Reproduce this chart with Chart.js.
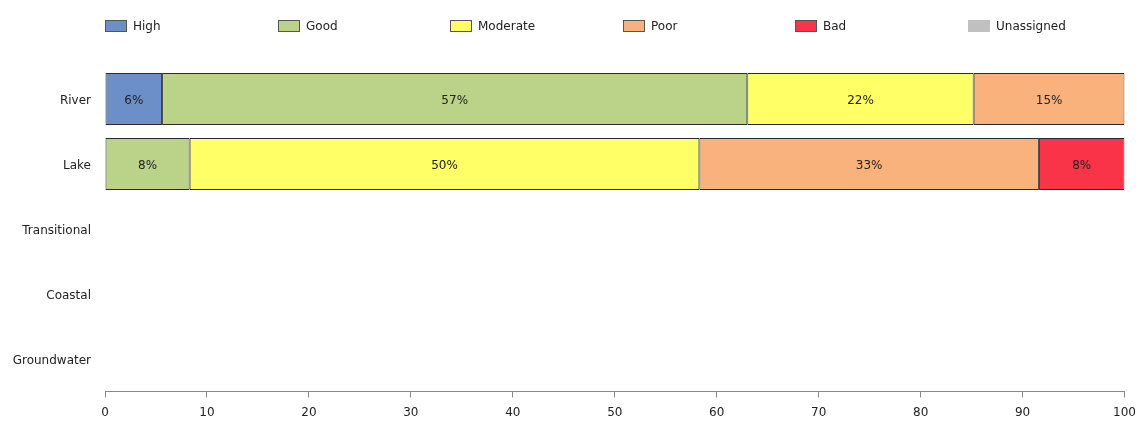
<!DOCTYPE html>
<html>
<head>
<meta charset="utf-8">
<script src="https://cdn.jsdelivr.net/npm/chart.js@4/dist/chart.umd.min.js"></script>
<style>
  body { margin: 0; background: #fff; }
</style>
</head>
<body>
<canvas id="myChart" width="1144" height="421"></canvas>
<script>
// water body categories (y axis)
const categories = ['River', 'Lake', 'Transitional', 'Coastal', 'Groundwater'];

// share of water bodies per status class, in percent
const high       = [5.6,  null, null, null, null];
const good       = [57.4, 8.3,  null, null, null];
const moderate   = [22.2, 50.0, null, null, null];
const poor       = [14.8, 33.3, null, null, null];
const bad        = [null, 8.4,  null, null, null];
const unassigned = [null, null, null, null, null];

const xTicks = [0, 10, 20, 30, 40, 50, 60, 70, 80, 90, 100];

const seriesNames = ['High', 'Good', 'Moderate', 'Poor', 'Bad', 'Unassigned'];
const seriesData = [high, good, moderate, poor, bad, unassigned];
const seriesColors = ['#6b8fc6', '#bbd289', '#ffff66', '#f9b27b', '#f93448', '#c0c0c0'];

const FONT = { family: 'DejaVu Sans', size: 12 };
const TEXT = '#222';

// writes "xx%" in the middle of every segment
const segmentLabels = {
	id: 'segmentLabels',
	afterDatasetsDraw(chart) {
		const ctx = chart.ctx;
		ctx.save();
		ctx.font = FONT.size + 'px ' + FONT.family;
		ctx.fillStyle = TEXT;
		ctx.textAlign = 'center';
		ctx.textBaseline = 'middle';
		chart.data.datasets.forEach((ds, i) => {
			const meta = chart.getDatasetMeta(i);
			meta.data.forEach((bar, j) => {
				const v = ds.data[j];
				if (v == null || v === 0) return;
				const c = bar.getCenterPoint();
				ctx.fillText(Math.round(v) + '%', c.x, c.y + 1.5);
			});
		});
		ctx.restore();
	}
};

// legend in evenly spaced columns above the plot
const columnLegend = {
	id: 'columnLegend',
	afterDraw(chart) {
		const ctx = chart.ctx;
		const left = chart.chartArea.left;
		const step = 172.6;
		ctx.save();
		ctx.font = FONT.size + 'px ' + FONT.family;
		ctx.textBaseline = 'middle';
		chart.data.datasets.forEach((ds, i) => {
			const x = Math.round(left + i * step);
			ctx.fillStyle = ds.backgroundColor;
			ctx.fillRect(x, 20, 22, 12);
			if (ds.label !== 'Unassigned') {
				ctx.strokeStyle = '#555';
				ctx.lineWidth = 1;
				ctx.strokeRect(x + 0.5, 20.5, 21, 11);
			}
			ctx.fillStyle = TEXT;
			ctx.textAlign = 'left';
			ctx.fillText(ds.label, x + 28, 27);
		});
		ctx.restore();
	}
};

const ctx = document.querySelector('#myChart').getContext('2d');

new Chart(ctx, {
	type: 'bar',
	data: {
		labels: categories,
		datasets: seriesNames.map((name, i) => ({
			label: name,
			data: seriesData[i],
			backgroundColor: seriesColors[i],
			borderColor: '#2a2a2a',
			borderWidth: 1,
			borderSkipped: false,
			barPercentage: 0.8,
			categoryPercentage: 1.0
		}))
	},
	options: {
		indexAxis: 'y',
		responsive: false,
		animation: false,
		layout: { padding: { top: 66.5, right: 17, left: 0, bottom: 0 } },
		plugins: {
			legend: { display: false },
			tooltip: { enabled: false }
		},
		scales: {
			x: {
				stacked: true,
				min: 0,
				max: 100,
				afterBuildTicks: scale => { scale.ticks = xTicks.map(v => ({ value: v })); },
				afterFit: scale => { scale.height = 29.5; },
				grid: { drawOnChartArea: false, drawTicks: true, tickLength: 6, color: '#888' },
				border: { display: true, color: '#888' },
				ticks: { font: FONT, color: TEXT, padding: 8, maxRotation: 0 }
			},
			y: {
				stacked: true,
				afterFit: scale => { scale.width = 105; },
				grid: { display: false, drawTicks: false },
				border: { display: false },
				ticks: { font: FONT, color: TEXT, padding: 14, labelOffset: 2 }
			}
		}
	},
	plugins: [segmentLabels, columnLegend]
});
</script>
</body>
</html>
